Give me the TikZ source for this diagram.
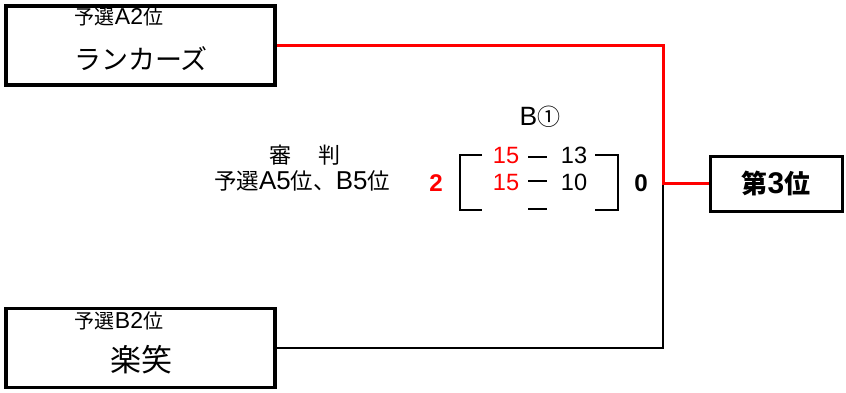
\documentclass[tikz,border=0pt]{standalone}
\usepackage{fontspec}
\setmainfont{Noto Sans CJK JP}
\newfontfamily\lat[Scale=1.15]{Liberation Sans}
\newcommand{\lt}[1]{{\lat #1}}
\begin{document}
\begin{tikzpicture}[x=1pt, y=-1pt,
    team/.style={draw, black, line width=3.5pt, minimum width=269pt, minimum height=79pt, inner sep=0pt},
    seed/.style={font=\fontsize{20}{20}\selectfont},
    pts/.style={font=\lat\fontsize{20.5}{20.5}\selectfont}]
  \useasboundingbox (0, 0) rectangle (846, 392);

  \draw (140.5, 45.5) node[team](b1){}
        (140.5, 348) node[team](b2){}
        (776, 183.5) node[draw, black, line width=3pt, minimum width=132pt, minimum height=55pt, font=\bfseries\fontsize{26}{26}\selectfont](b3){第\lt{3}位};

  \node[seed] (s1) at (119, 17) {予選\lt{A2}位};
  \node[font=\fontsize{27}{27}\selectfont] (t1) at (141, 59) {ランカーズ};
  \node[seed] (s2) at (119, 321) {予選\lt{B2}位};
  \node[font=\fontsize{31}{31}\selectfont] (t2) at (141, 360) {楽笑};

  \node[font=\fontsize{23}{23}\selectfont] (m1) at (540, 117) {\lt{B}①};
  \node[seed, font=\fontsize{22}{22}\selectfont] (r1) at (305, 155) {審\hspace{1.2em}判};
  \node[seed, font=\fontsize{22.5}{22.5}\selectfont] (r2) at (302, 181) {予選\lt{A5}位、\lt{B5}位};

  \node[pts, red] (p11) at (506, 155) {15};
  \node[pts] (p12) at (574, 155) {13};
  \node[pts, red] (p21) at (506, 182) {15};
  \node[pts] (p22) at (574, 182) {10};
  \node[red, font=\lat\bfseries\fontsize{21}{21}\selectfont] (w1) at (436, 183) {2};
  \node[font=\lat\bfseries\fontsize{21}{21}\selectfont] (w2) at (641, 183) {0};

  \draw[line width=2pt] (482, 155) -- (460, 155) -- (460, 210) -- (482, 210);
  \draw[line width=2pt] (595, 155) -- (618, 155) -- (618, 210) -- (595, 210);
  \draw[line width=2pt] (528, 157) -- (547, 157);
  \draw[line width=2pt] (528, 181) -- (547, 181);
  \draw[line width=2pt] (528, 209) -- (547, 209);

  \coordinate (c1) at (663, 183.5);
  \draw[line width=1.8pt] (b2.east) -| (c1);
  \draw[red, line width=3pt] (b1.east) -| (c1) -- (b3.west);
\end{tikzpicture}
\end{document}
